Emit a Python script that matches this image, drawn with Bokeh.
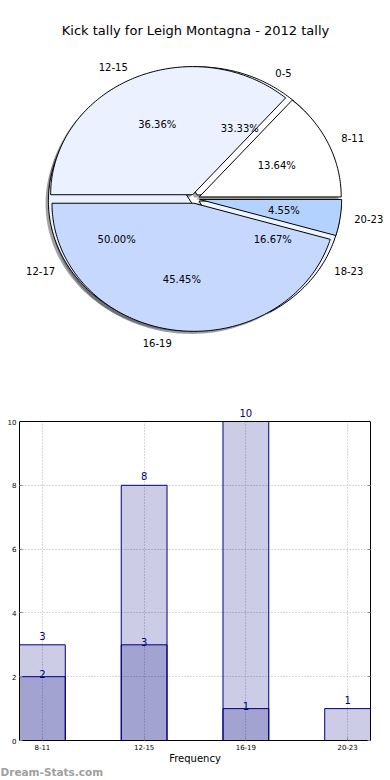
import numpy as np
from bokeh.plotting import figure
from bokeh.layouts import column
from bokeh.models import Label, Range1d, FixedTicker, LinearAxis, Span
from bokeh.embed import file_html
from bokeh.resources import INLINE
from bokeh.core.properties import value

# ---------------- data ----------------
title_text = "Kick tally for Leigh Montagna - 2012 tally"

pie1_labels = ["0-5", "12-17", "18-23"]
pie1_counts = [2, 3, 1]
pie1_colors = ["#ffffff", "#ebf1fe", "#eef4ff"]

pie2_labels = ["8-11", "12-15", "16-19", "20-23"]
pie2_counts = [3, 8, 10, 1]
pie2_colors = ["#ffffff", "#ebf1fe", "#c6d8fe", "#b3d3fe"]

bar_categories = ["8-11", "12-15", "16-19", "20-23"]
bar_light = [3, 8, 10, 1]
bar_dark = [2, 3, 1, 0]
y_ticks = [0, 2, 4, 6, 8, 10]
y_max = 10

watermark = "Dream-Stats.com"
x_label = "Frequency"

FONT = value("DejaVu Sans")
FONT_NAME = "DejaVu Sans"

# ---------------- pie figure ----------------
W = 390
H1 = 372
cx, cy = 194.2, 198.3      # pie centre in canvas px (from top-left)
rx, ry = 142.0, 128.1      # radius in px (horizontal / vertical)
EXPLODE = 0.035

p1 = figure(width=W, height=H1,
            x_range=Range1d(-cx / rx, (W - cx) / rx),
            y_range=Range1d(-(H1 - cy) / ry, cy / ry),
            x_axis_location=None, y_axis_location=None,
            min_border=0, toolbar_location=None, output_backend="svg")
p1.frame_align = False
p1.grid.visible = False
p1.outline_line_color = None


def pie_geometry(counts, explode):
    total = float(sum(counts))
    t = 0.0
    out = []
    for c in counts:
        f = c / total
        t1, t2 = t, t + 360.0 * f
        tm = np.deg2rad((t1 + t2) / 2.0)
        ox, oy = explode * np.cos(tm), explode * np.sin(tm)
        a = np.deg2rad(np.linspace(t1, t2, int(abs(t2 - t1)) + 2))
        xs = [ox] + list(ox + np.cos(a)) + [ox]
        ys = [oy] + list(oy + np.sin(a)) + [oy]
        out.append(dict(xs=xs, ys=ys, ox=ox, oy=oy, tm=tm, frac=f))
        t = t2
    return out


def shadow_color(hexcol):
    r = int(hexcol[1:3], 16) * 0.3
    g = int(hexcol[3:5], 16) * 0.3
    b = int(hexcol[5:7], 16) * 0.3
    return "#%02x%02x%02x" % (int(r), int(g), int(b))


g1 = pie_geometry(pie1_counts, EXPLODE)
g2 = pie_geometry(pie2_counts, EXPLODE)

# shadows (both pies) first
for g, cols in ((g1, pie1_colors), (g2, pie2_colors)):
    p1.patches(xs=[[x - 0.02 for x in w["xs"]] for w in g],
               ys=[[y - 0.02 for y in w["ys"]] for w in g],
               fill_color=[shadow_color(c) for c in cols], fill_alpha=0.5,
               line_alpha=0)

for g, cols in ((g1, pie1_colors), (g2, pie2_colors)):
    p1.patches(xs=[w["xs"] for w in g], ys=[w["ys"] for w in g],
               fill_color=cols, line_color="black", line_width=1)

# texts
for g, labs in ((g1, pie1_labels), (g2, pie2_labels)):
    lx_l, ly_l, lt_l, lx_r, ly_r, lt_r = [], [], [], [], [], []
    px, py, pt = [], [], []
    for w, lab in zip(g, labs):
        xt = w["ox"] + 1.1 * np.cos(w["tm"])
        yt = w["oy"] + 1.1 * np.sin(w["tm"])
        if xt > 0:
            lx_l.append(xt); ly_l.append(yt); lt_l.append(lab)
        else:
            lx_r.append(xt); ly_r.append(yt); lt_r.append(lab)
        px.append(w["ox"] + 0.6 * np.cos(w["tm"]))
        py.append(w["oy"] + 0.6 * np.sin(w["tm"]))
        pt.append("%.2f%%" % (100.0 * w["frac"]))
    p1.text(x=lx_l, y=ly_l, text=lt_l, text_align="left", text_baseline="middle",
            text_font=FONT, text_font_size="10px", text_color="black")
    p1.text(x=lx_r, y=ly_r, text=lt_r, text_align="right", text_baseline="middle",
            text_font=FONT, text_font_size="10px", text_color="black")
    p1.text(x=px, y=py, text=pt, text_align="center", text_baseline="middle",
            text_font=FONT, text_font_size="10px", text_color="black")

p1.add_layout(Label(x=(195 - cx) / rx, y=(cy - 30) / ry, text=title_text,
                    text_align="center", text_baseline="middle",
                    text_font=FONT_NAME, text_font_size="13px", text_color="black"))

# ---------------- bar figure ----------------
H3 = 14
H2 = 780 - H1 - H3
BL, BR = 19, 20
PLOT_H = 319                      # height of the 0..10 area
HEADROOM = 16                     # room above y=10 for the value label
BT = 49 - HEADROOM
BB = H2 - BT - PLOT_H - HEADROOM
xs = list(range(len(bar_categories)))
BAR_W = 0.45
xr = Range1d(-BAR_W / 2, len(bar_categories) - 1 + BAR_W / 2)
yr = Range1d(0, y_max + HEADROOM * y_max / PLOT_H)

p2 = figure(width=W, height=H2, x_range=xr, y_range=yr,
            min_border_left=BL, min_border_right=BR, min_border_top=BT,
            min_border_bottom=BB, toolbar_location=None, output_backend="svg")
p2.frame_align = False
p2.outline_line_color = None

p2.vbar(x=xs, top=bar_light, width=BAR_W, fill_color="#000080", fill_alpha=0.2,
        line_color="#000080", line_width=1)
dx = [x for x, v in zip(xs, bar_dark) if v > 0]
dv = [v for v in bar_dark if v > 0]
p2.vbar(x=dx, top=dv, width=BAR_W, fill_color="#000080", fill_alpha=0.2,
        line_color="#000080", line_width=1)

p2.text(x=xs, y=bar_light, text=[str(v) for v in bar_light], text_align="center",
        text_baseline="alphabetic", y_offset=-9, text_font=FONT,
        text_font_size="10px", text_color="#000080")
p2.text(x=dx, y=dv, text=[str(v) for v in dv], text_align="center",
        text_baseline="alphabetic", y_offset=-3, text_font=FONT,
        text_font_size="10px", text_color="#000080")

# right axis acts as the right side of the axes box
p2.add_layout(LinearAxis(), "right")

p2.xaxis.ticker = FixedTicker(ticks=xs)
p2.xaxis.major_label_overrides = {i: c for i, c in zip(xs, bar_categories)}
p2.yaxis.ticker = FixedTicker(ticks=y_ticks)
p2.xgrid.ticker = FixedTicker(ticks=xs)
p2.ygrid.ticker = FixedTicker(ticks=y_ticks)
p2.xgrid.cross_bounds = (0, y_max)
p2.yaxis.bounds = (0, y_max)

for ax in (p2.xaxis, p2.yaxis):
    ax.major_label_text_font = FONT_NAME
    ax.major_label_text_font_size = "7px"
    ax.major_label_text_color = "black"
    ax.axis_line_color = "black"
    ax.major_tick_in = 3
    ax.major_tick_out = 0
    ax.major_tick_line_color = "#888888"
    ax.minor_tick_line_color = None
    ax.major_label_standoff = 3

p2.yaxis[1].major_label_text_color = None
p2.yaxis[1].major_label_standoff = 0

# top side of the axes box at y = y_max
p2.add_layout(Span(location=y_max, dimension="width", line_color="black",
                   line_width=1))

p2.xaxis.axis_label = x_label
p2.xaxis.axis_label_text_font = FONT_NAME
p2.xaxis.axis_label_text_font_size = "10px"
p2.xaxis.axis_label_text_font_style = "normal"
p2.xaxis.axis_label_text_color = "black"
p2.xaxis.axis_label_standoff = 0

p2.grid.grid_line_color = "#b0b0b0"
p2.grid.grid_line_dash = "1 2"
p2.grid.grid_line_width = 1

# ---------------- watermark strip ----------------
p3 = figure(width=W, height=H3, x_range=Range1d(0, W), y_range=Range1d(0, H3),
            x_axis_location=None, y_axis_location=None, min_border=0,
            toolbar_location=None, output_backend="svg")
p3.frame_align = False
p3.grid.visible = False
p3.outline_line_color = None
p3.text(x=[0], y=[H3 - 5], text=[watermark], text_align="left",
        text_baseline="middle", text_font=FONT, text_font_size="10.5px",
        text_font_style="bold", text_color="#a0a0a0")

layout = column(p1, p2, p3)
open("out.html", "w").write(file_html(layout, INLINE))
